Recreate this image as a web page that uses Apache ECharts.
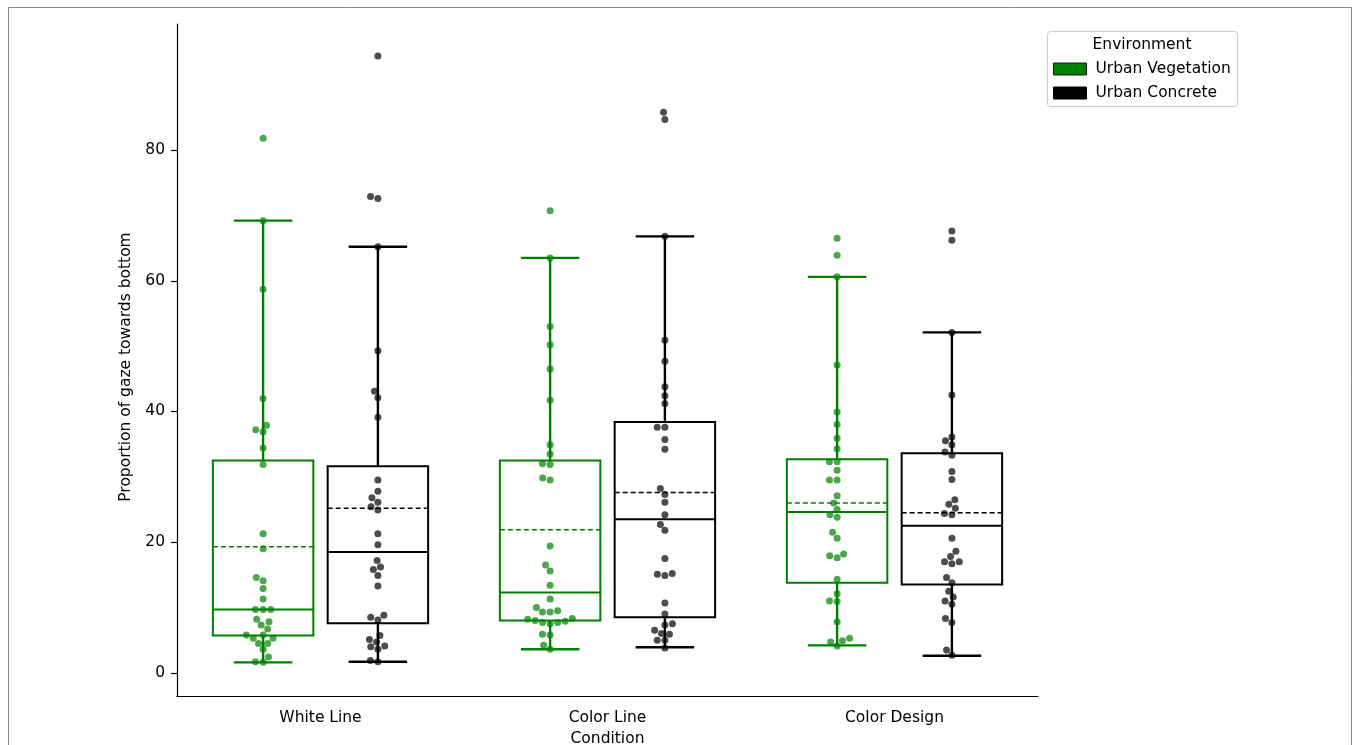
<!DOCTYPE html>
<html>
<head>
<meta charset="utf-8">
<script src="https://cdn.jsdelivr.net/npm/echarts@6/dist/echarts.min.js"></script>
<style>
html,body{margin:0;padding:0;background:#fff;}
#chart{width:1359px;height:745px;}
</style>
</head>
<body>
<div id="chart"></div>
<script>
// ---------------- data ----------------
const categories = ['White Line', 'Color Line', 'Color Design'];
const hueNames = ['Urban Vegetation', 'Urban Concrete'];
const yTicks = [0, 20, 40, 60, 80];

// box stats per category: [lower whisker, Q1, median, Q3, upper whisker]
const vegBox = [
  [1.6, 5.7, 9.7, 32.5, 69.2],
  [3.6, 8.0, 12.3, 32.5, 63.5],
  [4.2, 13.8, 24.6, 32.7, 60.6]
];
const vegMean = [19.3, 21.9, 26.0];
const conBox = [
  [1.7, 7.6, 18.5, 31.6, 65.2],
  [3.9, 8.5, 23.5, 38.4, 66.8],
  [2.6, 13.5, 22.5, 33.6, 52.1]
];
const conMean = [25.2, 27.6, 24.5];

// individual observations
const vegWhiteLine = [81.8, 69.2, 58.7, 42.0, 37.9, 37.2, 36.9, 34.4, 31.9, 21.3, 19.0, 14.6, 14.1, 12.9, 11.3, 9.7, 9.7, 9.7, 8.2, 7.8, 7.3, 6.7, 5.8, 5.8, 5.3, 5.3, 4.5, 4.5, 3.6, 2.4, 1.7, 1.6];
const conWhiteLine = [94.4, 72.9, 72.6, 65.2, 49.3, 43.1, 42.1, 39.1, 29.5, 27.8, 26.8, 26.1, 25.4, 24.9, 21.3, 19.6, 17.2, 16.2, 15.8, 14.9, 13.3, 8.8, 8.5, 8.1, 5.7, 5.1, 4.7, 4.1, 4.0, 3.6, 1.9, 1.7];
const vegColorLine = [70.7, 63.5, 53.0, 50.2, 46.5, 41.7, 34.9, 33.5, 32.0, 31.9, 29.8, 29.5, 19.4, 16.5, 15.6, 13.4, 11.3, 10.0, 9.5, 9.3, 9.3, 8.3, 8.2, 8.0, 7.9, 7.7, 7.5, 7.7, 5.9, 5.8, 4.2, 3.6];
const conColorLine = [85.8, 84.7, 66.8, 50.9, 47.7, 43.8, 42.4, 41.2, 37.6, 37.6, 35.7, 34.2, 28.2, 27.3, 26.1, 24.2, 22.7, 21.8, 17.5, 15.2, 15.1, 14.9, 10.7, 9.0, 7.5, 7.3, 6.5, 6.0, 5.9, 5.0, 5.0, 3.8];
const vegColorDesign = [66.5, 63.9, 60.6, 47.1, 39.9, 38.0, 35.9, 34.3, 32.3, 32.3, 31.0, 29.5, 29.5, 27.1, 26.0, 25.0, 24.2, 23.8, 21.5, 20.6, 18.2, 17.9, 17.6, 14.3, 12.1, 11.0, 10.9, 7.8, 5.3, 4.9, 4.7, 4.1];
const conColorDesign = [67.6, 66.2, 52.1, 42.5, 36.1, 35.5, 34.9, 33.8, 33.3, 30.8, 29.6, 26.5, 25.8, 25.2, 24.4, 24.2, 20.6, 18.6, 17.8, 17.0, 17.0, 16.7, 14.6, 13.8, 12.5, 11.6, 11.0, 10.5, 8.3, 7.7, 3.5, 2.7];

const vegPoints = [vegWhiteLine, vegColorLine, vegColorDesign];
const conPoints = [conWhiteLine, conColorLine, conColorDesign];

// ---------------- styling ----------------
const FONT = 'DejaVu Sans';
const FS = 15.5;
const GREEN = '#008000';
const BLACK = '#000000';
const HUE_OFFSET = 0.2;     // dodge offset (category units)
const BOX_HALF = 0.175;     // half box width
const CAP_HALF = 0.102;     // half cap width
const DOT = 7;              // dot diameter, px

const chart = echarts.init(document.getElementById('chart'), null, {renderer: 'canvas'});

function boxData(box, mean) {
  return box.map((b, i) => [i, b[0], b[1], b[2], b[3], b[4], mean[i]]);
}

function makeBoxRender(offset, color) {
  return function (params, api) {
    const c = api.value(0) + offset;
    const lo = api.value(1), q1 = api.value(2), med = api.value(3), q3 = api.value(4), hi = api.value(5), mean = api.value(6);
    const tl = api.coord([c - BOX_HALF, q3]);
    const br = api.coord([c + BOX_HALF, q1]);
    const mid = api.coord([c, q1]);
    const midTop = api.coord([c, q3]);
    const pLo = api.coord([c, lo]);
    const pHi = api.coord([c, hi]);
    const capL = api.coord([c - CAP_HALF, lo])[0];
    const capR = api.coord([c + CAP_HALF, lo])[0];
    const yMed = api.coord([c, med])[1];
    const yMean = api.coord([c, mean])[1];
    const lineStyle = (w, dash) => ({stroke: color, lineWidth: w, fill: null, lineDash: dash || null});
    return {
      type: 'group',
      children: [
        {type: 'line', shape: {x1: mid[0], y1: mid[1], x2: pLo[0], y2: pLo[1]}, style: lineStyle(2.4)},
        {type: 'line', shape: {x1: midTop[0], y1: midTop[1], x2: pHi[0], y2: pHi[1]}, style: lineStyle(2.4)},
        {type: 'line', shape: {x1: capL, y1: pLo[1], x2: capR, y2: pLo[1]}, style: lineStyle(2.4)},
        {type: 'line', shape: {x1: capL, y1: pHi[1], x2: capR, y2: pHi[1]}, style: lineStyle(2.4)},
        {type: 'rect', shape: {x: tl[0], y: tl[1], width: br[0] - tl[0], height: br[1] - tl[1]}, style: {stroke: color, lineWidth: 2, fill: 'rgba(0,0,0,0)'}},
        {type: 'line', shape: {x1: tl[0], y1: yMed, x2: br[0], y2: yMed}, style: lineStyle(2)},
        {type: 'line', shape: {x1: tl[0], y1: yMean, x2: br[0], y2: yMean}, style: lineStyle(1.5, [5, 3])}
      ]
    };
  };
}

const option = {
  animation: false,
  backgroundColor: '#ffffff',
  textStyle: {fontFamily: FONT},
  grid: {left: 177, right: 321, top: 24, bottom: 49, containLabel: false, outerBoundsMode: 'none'},
  xAxis: [
    {
      type: 'category', data: categories, boundaryGap: true,
      axisLine: {onZero: false, lineStyle: {color: BLACK, width: 1.2}},
      axisTick: {alignWithLabel: true, length: 6, lineStyle: {color: BLACK, width: 1.2}},
      axisLabel: {color: BLACK, fontSize: FS, fontFamily: FONT, margin: 14},
      splitLine: {show: false},
      name: 'Condition', nameLocation: 'middle', nameGap: 34,
      nameTextStyle: {color: BLACK, fontSize: FS, fontFamily: FONT}
    },
    {type: 'value', min: -0.5, max: 2.5, show: false, axisLine: {onZero: false}}
  ],
  yAxis: {
    type: 'value', min: -3.55, max: 99.3,
    axisLine: {show: true, onZero: false, lineStyle: {color: BLACK, width: 1.2}},
    axisTick: {show: true, length: 6, customValues: yTicks, lineStyle: {color: BLACK, width: 1.2}},
    axisLabel: {color: BLACK, fontSize: FS, fontFamily: FONT, margin: 12, customValues: yTicks},
    splitLine: {show: false},
    name: 'Proportion of gaze towards bottom', nameLocation: 'middle', nameGap: 41,
    nameTextStyle: {color: BLACK, fontSize: FS, fontFamily: FONT, padding: [0, 14, 0, 0]}
  },
  legend: {
    orient: 'vertical', left: 1053, top: 61, padding: 0,
    itemWidth: 33, itemHeight: 12, itemGap: 8,
    selectedMode: false,
    textStyle: {color: BLACK, fontSize: FS, fontFamily: FONT, padding: [0, 0, 0, 4]},
    data: [
      {name: hueNames[0], icon: 'rect', itemStyle: {color: GREEN, borderColor: '#1a1a1a', borderWidth: 1, opacity: 1}},
      {name: hueNames[1], icon: 'rect', itemStyle: {color: BLACK, borderColor: BLACK, borderWidth: 1, opacity: 1}}
    ]
  },
  graphic: [
    {type: 'rect', silent: true, z: -10, shape: {x: 8.5, y: 7.5, width: 1343, height: 760}, style: {fill: null, stroke: '#8a8a8a', lineWidth: 1}},
    {type: 'rect', silent: true, shape: {x: 1047.5, y: 31.5, width: 190, height: 75, r: 3}, style: {fill: '#fff', stroke: '#cccccc', lineWidth: 1}, z: 0},
    {type: 'text', silent: true, x: 1142, y: 45, z: 10, style: {text: 'Environment', fontSize: FS, fontFamily: FONT, fill: BLACK, textAlign: 'center', textVerticalAlign: 'middle'}}
  ],
  series: [
    {name: hueNames[0], type: 'custom', xAxisIndex: 1, yAxisIndex: 0, z: 2, silent: true,
     renderItem: makeBoxRender(-HUE_OFFSET, GREEN), encode: {x: 0, y: [1, 2, 3, 4, 5, 6]},
     data: boxData(vegBox, vegMean)},
    {name: hueNames[1], type: 'custom', xAxisIndex: 1, yAxisIndex: 0, z: 2, silent: true,
     renderItem: makeBoxRender(HUE_OFFSET, BLACK), encode: {x: 0, y: [1, 2, 3, 4, 5, 6]},
     data: boxData(conBox, conMean)},
    {name: hueNames[0], type: 'scatter', xAxisIndex: 1, yAxisIndex: 0, z: 3, silent: true,
     symbol: 'circle', symbolSize: DOT, itemStyle: {color: GREEN, opacity: 0.7}, data: []},
    {name: hueNames[1], type: 'scatter', xAxisIndex: 1, yAxisIndex: 0, z: 3, silent: true,
     symbol: 'circle', symbolSize: DOT, itemStyle: {color: BLACK, opacity: 0.7}, data: []}
  ]
};

chart.setOption(option);

// beeswarm layout (same idea as seaborn's swarmplot), computed in pixel space
const finder = {xAxisIndex: 1, yAxisIndex: 0};
function swarm(values, center, d) {
  const cx = chart.convertToPixel(finder, [center, 0])[0];
  const pts = values.map(v => ({v: v, y: chart.convertToPixel(finder, [center, v])[1], x: 0}));
  pts.sort((a, b) => a.v - b.v);
  const placed = [];
  pts.forEach(p => {
    const neighbors = [];
    for (let k = placed.length - 1; k >= 0; k--) {
      if (Math.abs(p.y - placed[k].y) < d) neighbors.push(placed[k]); else break;
    }
    const cands = [0];
    let leftFirst = true;
    neighbors.forEach(n => {
      const dy = p.y - n.y;
      const dx = Math.sqrt(Math.max(d * d - dy * dy, 0)) * 1.05;
      if (leftFirst) cands.push(n.x - dx, n.x + dx); else cands.push(n.x + dx, n.x - dx);
      leftFirst = !leftFirst;
    });
    const order = cands.map((x, j) => ({x, j})).sort((a, b) => (Math.abs(a.x) - Math.abs(b.x)) || (a.j - b.j));
    let chosen = order[0].x;
    for (const c of order) {
      if (neighbors.every(n => (n.x - c.x) * (n.x - c.x) + (n.y - p.y) * (n.y - p.y) >= d * d - 1e-6)) { chosen = c.x; break; }
    }
    p.x = chosen;
    placed.push(p);
  });
  return pts.map(p => [chart.convertFromPixel(finder, [cx + p.x, p.y])[0], p.v]);
}

const vegData = [], conData = [];
categories.forEach((c, i) => {
  swarm(vegPoints[i], i - HUE_OFFSET, DOT + 0.3).forEach(d => vegData.push(d));
  swarm(conPoints[i], i + HUE_OFFSET, DOT + 0.3).forEach(d => conData.push(d));
});

chart.setOption({series: [{}, {}, {data: vegData}, {data: conData}]});
</script>
</body>
</html>
